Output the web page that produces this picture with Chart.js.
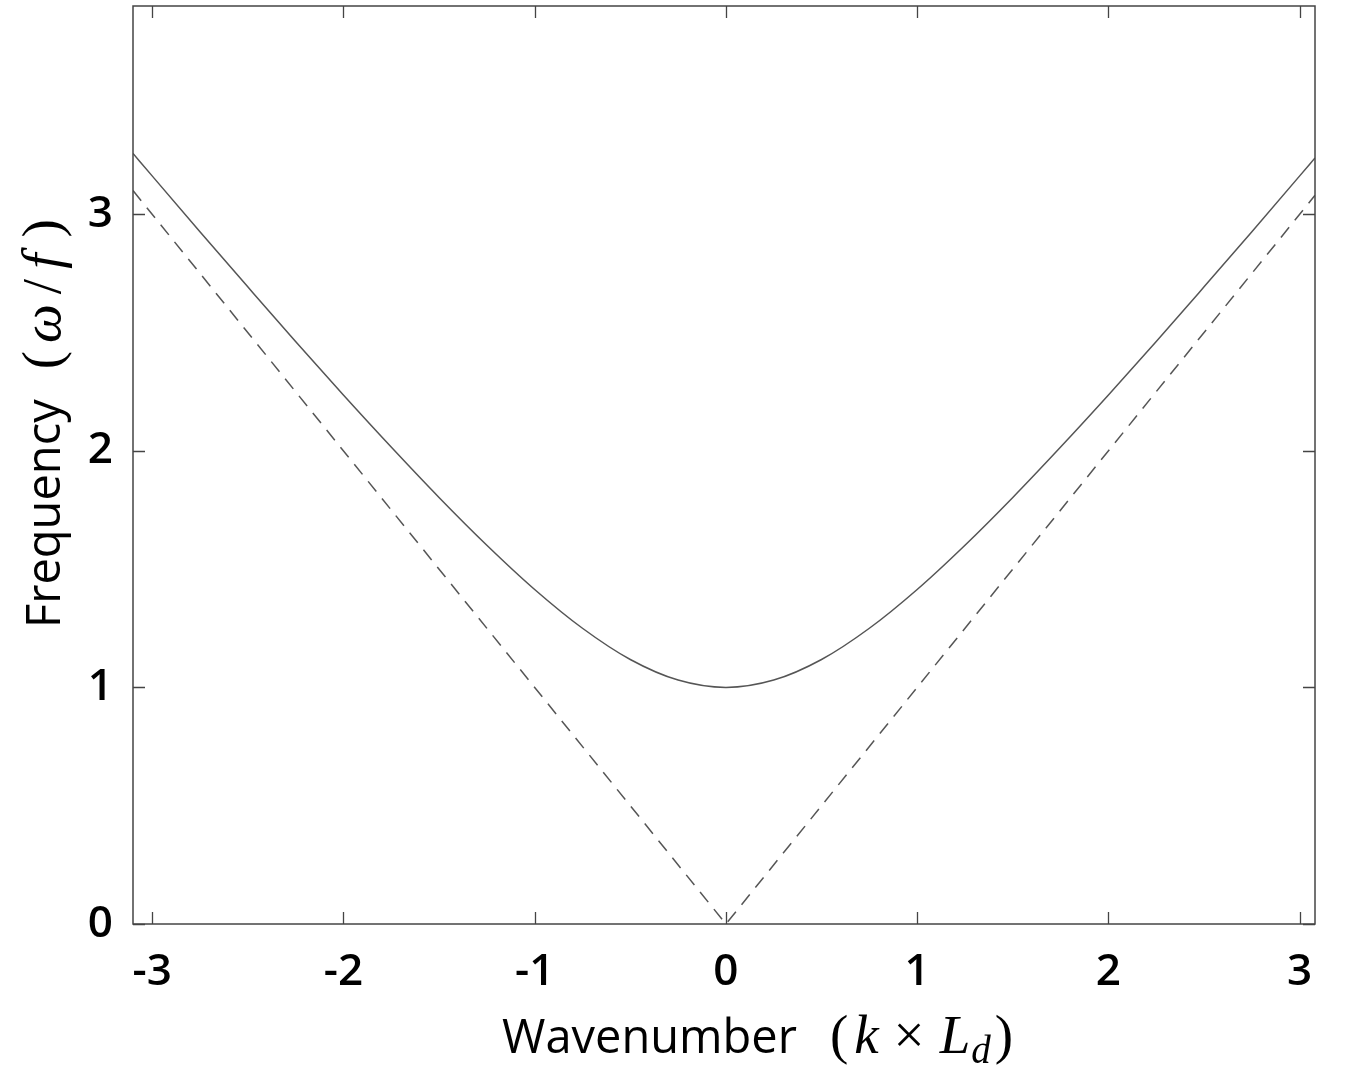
<!DOCTYPE html>
<html>
<head>
<meta charset="utf-8">
<script src="https://cdn.jsdelivr.net/npm/chart.js@4/dist/chart.umd.min.js"></script>
<style>
html,body{margin:0;padding:0;background:#fff;}
#wrap{width:1347px;height:1065px;position:relative;}
</style>
</head>
<body>
<div id="wrap"><canvas id="c" width="1347" height="1065"></canvas></div>
<script>
// Data
const kValues = [-3.1, -3.0, -2.75, -2.5, -2.25, -2.0, -1.75, -1.5, -1.25, -1.0, -0.75, -0.5, -0.25, 0, 0.25, 0.5, 0.75, 1.0, 1.25, 1.5, 1.75, 2.0, 2.25, 2.5, 2.75, 3.0, 3.08];
const omegaValues = [3.257, 3.162, 2.926, 2.693, 2.462, 2.236, 2.016, 1.803, 1.601, 1.414, 1.250, 1.118, 1.031, 1.000, 1.031, 1.118, 1.250, 1.414, 1.601, 1.803, 2.016, 2.236, 2.462, 2.693, 2.926, 3.162, 3.238];
const asymK = [-3.1, 0, 3.08];
const asymValues = [3.1, 0, 3.08];
const xTickValues = [-3, -2, -1, 0, 1, 2, 3];
const yTickValues = [0, 1, 2, 3];
const xRange = [-3.1, 3.08];
const yRange = [0, 3.88];

const lineColor = '#555555';
const frameColor = '#444444';

const framePlugin = {
  id: 'frameAndTitles',
  afterDraw(chart) {
    const ctx = chart.ctx;
    const a = chart.chartArea;
    const xs = chart.scales.x, ys = chart.scales.y;
    ctx.save();
    ctx.strokeStyle = frameColor;
    ctx.lineWidth = 1.5;
    ctx.strokeRect(a.left, a.top, a.right - a.left, a.bottom - a.top);
    const tl = 12;
    ctx.lineWidth = 1.3;
    ctx.beginPath();
    xTickValues.forEach(v => {
      const px = Math.round(xs.getPixelForValue(v)) + 0.5;
      ctx.moveTo(px, a.bottom); ctx.lineTo(px, a.bottom - tl);
      ctx.moveTo(px, a.top); ctx.lineTo(px, a.top + tl);
    });
    yTickValues.forEach(v => {
      const py = Math.round(ys.getPixelForValue(v)) + 0.5;
      ctx.moveTo(a.left, py); ctx.lineTo(a.left + tl, py);
      ctx.moveTo(a.right, py); ctx.lineTo(a.right - tl, py);
    });
    ctx.stroke();

    // titles
    ctx.fillStyle = '#000';
    ctx.textBaseline = 'alphabetic';
    ctx.textAlign = 'left';
    function drawSegs(segs, x, y) {
      let cx = x;
      segs.forEach(s => {
        ctx.font = s.font;
        ctx.fillText(s.t, cx, y + (s.dy || 0));
        cx += ctx.measureText(s.t).width + (s.gap || 0);
      });
    }
    const sans = '47px "Open Sans"';
    const mathI = 'italic 55px "Liberation Serif"';
    const mathR = '55px "Liberation Serif"';
    const sub = 'italic 39px "Liberation Serif"';
    // x title
    drawSegs([
      {t: 'Wavenumber', font: sans, gap: 33},
      {t: '(', font: mathR, gap: 6},
      {t: 'k', font: mathI, gap: 15},
      {t: '×', font: mathR, gap: 15},
      {t: 'L', font: mathI, gap: 1},
      {t: 'd', font: sub, dy: 10, gap: 4},
      {t: ')', font: mathR}
    ], 502, 1053);
    // y title (rotated)
    ctx.translate(60, 628);
    ctx.rotate(-Math.PI / 2);
    drawSegs([
      {t: 'Frequency', font: sans, gap: 30},
      {t: '(', font: mathR, gap: 8},
      {t: 'ω', font: mathI, gap: 10},
      {t: '/', font: mathR, gap: 10},
      {t: 'f', font: mathI, gap: 16},
      {t: ')', font: mathR}
    ], 0, 0);
    ctx.restore();
  }
};

new Chart(document.getElementById('c'), {
  type: 'scatter',
  data: {
    datasets: [
      {
        label: 'omega',
        data: kValues.map((k, i) => ({x: k, y: omegaValues[i]})),
        showLine: true,
        borderColor: lineColor,
        borderWidth: 1.5,
        pointRadius: 0,
        cubicInterpolationMode: 'monotone',
        fill: false
      },
      {
        label: 'asymptote',
        data: asymK.map((k, i) => ({x: k, y: asymValues[i]})),
        showLine: true,
        borderColor: lineColor,
        borderWidth: 1.5,
        borderDash: [13, 9],
        pointRadius: 0,
        tension: 0,
        fill: false
      }
    ]
  },
  options: {
    responsive: false,
    animation: false,
    layout: {padding: {top: 6, right: 32, left: 0, bottom: 0}},
    plugins: {legend: {display: false}, tooltip: {enabled: false}},
    scales: {
      x: {
        type: 'linear',
        min: xRange[0], max: xRange[1],
        grid: {display: false, drawTicks: false},
        border: {display: false},
        afterBuildTicks: s => { s.ticks = xTickValues.map(v => ({value: v})); },
        afterFit: s => { s.height = 141; s.paddingLeft = 0; s.paddingRight = 0; },
        ticks: {
          color: '#000',
          font: {family: 'Open Sans', size: 44, weight: '600'},
          padding: 22,
          maxRotation: 0,
          autoSkip: false,
          callback: v => String(v)
        }
      },
      y: {
        type: 'linear',
        min: yRange[0], max: yRange[1],
        grid: {display: false, drawTicks: false},
        border: {display: false},
        afterBuildTicks: s => { s.ticks = yTickValues.map(v => ({value: v})); },
        afterFit: s => { s.width = 133; s.paddingTop = 0; s.paddingBottom = 0; },
        ticks: {
          color: '#000',
          font: {family: 'Open Sans', size: 44, weight: '600'},
          padding: 20,
          autoSkip: false,
          callback: v => String(v)
        }
      }
    }
  },
  plugins: [framePlugin]
});
</script>
</body>
</html>
